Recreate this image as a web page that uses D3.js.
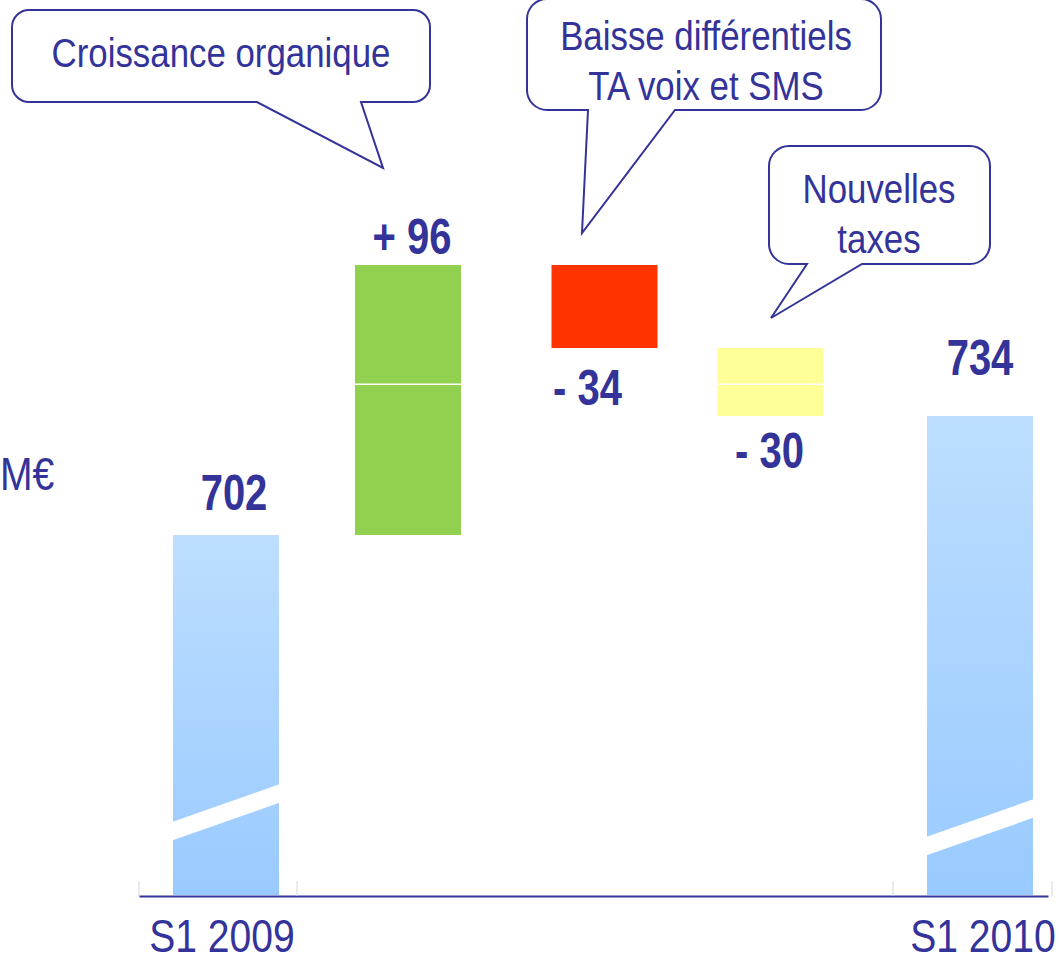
<!DOCTYPE html>
<html>
<head>
<meta charset="utf-8">
<script src="https://cdn.jsdelivr.net/npm/d3@7/dist/d3.min.js"></script>
<style>
  html, body { margin: 0; padding: 0; background: #ffffff; }
  svg { display: block; }
</style>
</head>
<body>
<script>
// ---------------- data ----------------
const categories = ["S1 2009", "Croissance organique", "Baisse différentiels TA voix et SMS", "Nouvelles taxes", "S1 2010"];
const kinds = ["total", "delta", "delta", "delta", "total"];
const values = [702, 96, -34, -30, 734];
const valueLabels = ["702", "+ 96", "- 34", "- 30", "734"];
const axisLabels = ["S1 2009", "", "", "", "S1 2010"];
const calloutLines = [
  [],
  ["Croissance organique"],
  ["Baisse différentiels", "TA voix et SMS"],
  ["Nouvelles", "taxes"],
  []
];
const gridValues = [748];
const unitLabel = "M€";

// ---------------- setup ----------------
const W = 1059, H = 956;
const ink = "#333399";
const font = "'Liberation Sans', Arial, sans-serif";
const sxNormal = 0.85, sxBold = 0.80;

const svg = d3.select("body").append("svg").attr("width", W).attr("height", H);

const defs = svg.append("defs");
const grad = defs.append("linearGradient").attr("id", "blueGrad")
  .attr("x1", 0).attr("y1", 0).attr("x2", 0).attr("y2", 1);
grad.append("stop").attr("offset", "0%").attr("stop-color", "#bddeff");
grad.append("stop").attr("offset", "100%").attr("stop-color", "#99caff");

// waterfall computation
let running = 0;
const rows = categories.map((c, i) => {
  let y0, y1;
  if (kinds[i] === "total") { y0 = 0; y1 = values[i]; running = values[i]; }
  else { y0 = running; y1 = running + values[i]; running = y1; }
  return { cat: c, i, kind: kinds[i], value: values[i], lo: Math.min(y0, y1), hi: Math.max(y0, y1), label: valueLabels[i] };
});

// scales (broken, not-to-scale value axis as in the slide)
const x = d3.scaleLinear().domain([0, 1, 2, 3, 4]).range([226, 408, 604.5, 770.5, 980]);
const y = d3.scaleLinear().domain([0, 702, 734, 764, 798]).range([895, 535, 416, 348, 265]);
const barW = 106;
const deltaColors = d3.scaleOrdinal().domain([1, 2, 3]).range(["#92d050", "#ff3300", "#ffff99"]);

// ---------------- bars ----------------
const gBars = svg.append("g");
gBars.selectAll("rect.bar").data(rows).join("rect")
  .attr("class", "bar")
  .attr("x", d => x(d.i) - barW / 2)
  .attr("width", barW)
  .attr("y", d => y(d.hi))
  .attr("height", d => y(d.lo) - y(d.hi))
  .attr("fill", d => d.kind === "total" ? "url(#blueGrad)" : deltaColors(d.i));

// white gridline crossing the floating bars
svg.append("g").selectAll("line").data(gridValues).join("line")
  .attr("x1", x(0) - barW).attr("x2", x(4) + barW / 2)
  .attr("y1", d => y(d)).attr("y2", d => y(d))
  .attr("stroke", "#ffffff").attr("stroke-width", 1.5);

// axis-break stripes on total bars
const breakLift = [73, 0, 0, 0, 58];
svg.append("g").selectAll("path").data(rows.filter(d => d.kind === "total")).join("path")
  .attr("d", d => {
    const xl = x(d.i) - barW / 2 - 1, xr = x(d.i) + barW / 2 + 1;
    const yl = y(0) - breakLift[d.i];
    const rise = 38, th = 18.5;
    return `M${xl},${yl} L${xr},${yl - rise} L${xr},${yl - rise + th} L${xl},${yl + th} Z`;
  })
  .attr("fill", "#ffffff");

// ---------------- axis ----------------
const axisY = y(0) + 1;
const xa = d3.scaleLinear().domain([0, 1]).range([139, 1048]);
const axisG = svg.append("g").attr("transform", `translate(0,${axisY})`)
  .call(d3.axisBottom(xa).tickValues([]).tickSizeOuter(0));
axisG.select(".domain").attr("stroke", ink).attr("stroke-width", 2);

const bounds = [139, 297, 893, 1052];
svg.append("g").selectAll("line").data(bounds).join("line")
  .attr("x1", d => d).attr("x2", d => d)
  .attr("y1", axisY - 15).attr("y2", axisY)
  .attr("stroke", "#d4d4e4").attr("stroke-width", 1);

function addText(g, str, tx, ty, size, weight, sx, anchor) {
  return g.append("text")
    .attr("transform", `translate(${tx},${ty}) scale(${sx},1)`)
    .attr("text-anchor", anchor || "middle")
    .attr("font-family", font)
    .attr("font-size", size)
    .attr("font-weight", weight)
    .attr("fill", ink)
    .text(str);
}

const gText = svg.append("g");
axisLabels.forEach((t, i) => {
  if (t) addText(gText, t, x(i) + (i === 0 ? -4 : 3), 952, 46, "normal", sxNormal);
});
addText(gText, unitLabel, 0, 490, 46, "normal", sxNormal, "start");

// value labels
const labelNudge = [
  { dx: 8, dy: -25 }, { dx: 4, dy: -11 }, { dx: -17, dy: 57 }, { dx: -1, dy: 52 }, { dx: 0, dy: -41 }
];
rows.forEach(d => {
  const anchorY = d.value >= 0 ? y(d.hi) : y(d.lo);
  addText(gText, d.label, x(d.i) + labelNudge[d.i].dx, anchorY + labelNudge[d.i].dy, 50, "bold", sxBold);
});

// ---------------- callouts ----------------
const calloutGeom = [
  null,
  { x0: 12, y0: 10, x1: 430, y1: 102, r: 17, bR: 361, tip: [383, 168], bL: 257, tx: 221, ty: 67 },
  { x0: 527, y0: -1, x1: 881, y1: 110, r: 20, bR: 675, tip: [582, 233], bL: 588, tx: 706, ty: 50 },
  { x0: 769, y0: 146, x1: 990, y1: 264, r: 20, bR: 862, tip: [771, 318], bL: 807, tx: 879, ty: 203 },
  null
];
const gCall = svg.append("g");
calloutLines.forEach((lines, i) => {
  const c = calloutGeom[i];
  if (!c || !lines.length) return;
  const p = d3.path();
  p.moveTo(c.x0 + c.r, c.y0);
  p.lineTo(c.x1 - c.r, c.y0);
  p.arcTo(c.x1, c.y0, c.x1, c.y0 + c.r, c.r);
  p.lineTo(c.x1, c.y1 - c.r);
  p.arcTo(c.x1, c.y1, c.x1 - c.r, c.y1, c.r);
  p.lineTo(c.bR, c.y1);
  p.lineTo(c.tip[0], c.tip[1]);
  p.lineTo(c.bL, c.y1);
  p.lineTo(c.x0 + c.r, c.y1);
  p.arcTo(c.x0, c.y1, c.x0, c.y1 - c.r, c.r);
  p.lineTo(c.x0, c.y0 + c.r);
  p.arcTo(c.x0, c.y0, c.x0 + c.r, c.y0, c.r);
  p.closePath();
  gCall.append("path").attr("d", p.toString())
    .attr("fill", "#ffffff").attr("stroke", ink).attr("stroke-width", 2)
    .attr("stroke-linejoin", "miter");
  lines.forEach((t, k) => addText(gCall, t, c.tx, c.ty + k * 50, 41, "normal", sxNormal));
});
</script>
</body>
</html>
